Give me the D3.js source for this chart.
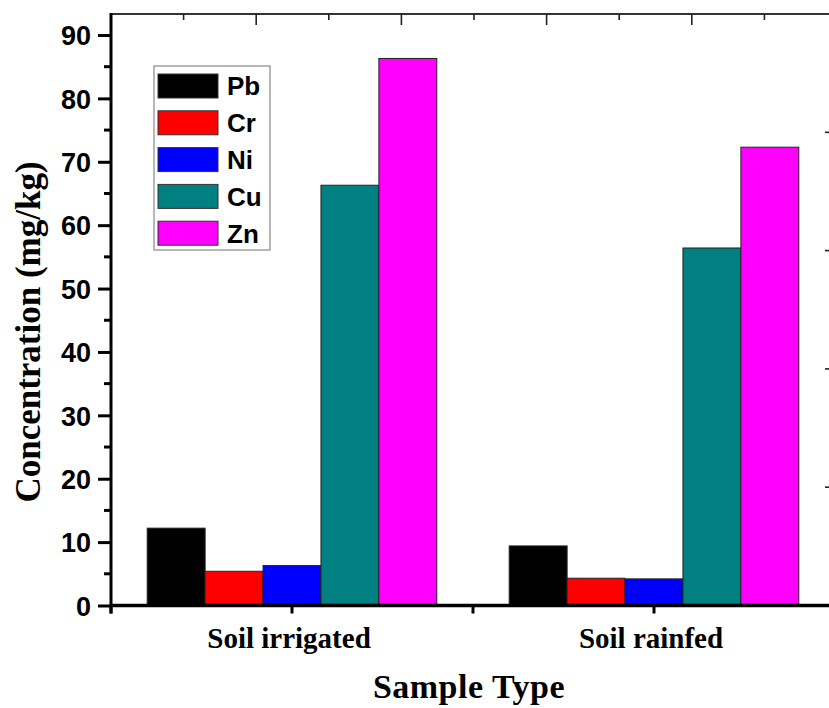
<!DOCTYPE html>
<html>
<head>
<meta charset="utf-8">
<script src="https://cdn.jsdelivr.net/npm/d3@7"></script>
<style>
  html, body { margin: 0; padding: 0; background: #fff; }
  svg { display: block; }
</style>
</head>
<body>
<div id="chart"></div>
<script>
// Heavy-metal concentrations in two soil types (mg/kg)
const sampleTypes = ["Soil irrigated", "Soil rainfed"];
const metals = ["Pb", "Cr", "Ni", "Cu", "Zn"];
const metalColors = ["#000000", "#ff0000", "#0000ff", "#008080", "#ff00ff"];
const pbValues = [12.2, 9.4];
const crValues = [5.4, 4.3];
const niValues = [6.3, 4.2];
const cuValues = [66.3, 56.4];
const znValues = [86.3, 72.3];
const yTicks = [0, 10, 20, 30, 40, 50, 60, 70, 80, 90];

const seriesValues = [pbValues, crValues, niValues, cuValues, znValues];
const rows = sampleTypes.map((s, i) => ({
  sample: s,
  values: metals.map((m, j) => ({ metal: m, value: seriesValues[j][i], color: metalColors[j] }))
}));

const W = 829, H = 708;
const plotLeft = 111, plotRight = 835, plotTop = 14, plotBottom = 605.5;

const svg = d3.select("#chart").append("svg")
  .attr("width", W).attr("height", H);

const x = d3.scaleBand().domain(sampleTypes).range([plotLeft, plotRight])
  .paddingInner(0.2).paddingOuter(0.1);
const xSub = d3.scaleBand().domain(metals).range([0, x.bandwidth()]);
const y = d3.scaleLinear().domain([0, 90]).range([plotBottom, 35]);

// Bars
const groups = svg.append("g").selectAll("g").data(rows).join("g")
  .attr("transform", d => `translate(${x(d.sample)},0)`);
groups.selectAll("rect").data(d => d.values).join("rect")
  .attr("x", d => xSub(d.metal))
  .attr("y", d => y(d.value))
  .attr("width", xSub.bandwidth())
  .attr("height", d => y(0) - y(d.value))
  .attr("fill", d => d.color)
  .attr("stroke", "#222")
  .attr("stroke-width", 1);

// Top frame axis (mirror, no labels)
const xTop = d3.scaleLinear().domain([0, 10]).range([plotLeft, plotLeft + 72.6 * 10]);
svg.append("line").attr("x1", plotLeft).attr("x2", W + 10).attr("y1", plotTop).attr("y2", plotTop)
  .attr("stroke", "#333").attr("stroke-width", 2);
svg.append("g").selectAll("line").data(d3.range(1, 10)).join("line")
  .attr("x1", d => xTop(d)).attr("x2", d => xTop(d))
  .attr("y1", plotTop).attr("y2", d => plotTop + (d % 2 === 0 ? 11 : 6))
  .attr("stroke", "#222").attr("stroke-width", 1.6);

// Right frame axis (its line lies just past the visible edge)
const yRight = d3.scaleLinear().domain([0, 100]).range([plotBottom, plotTop]);
svg.append("line").attr("x1", plotRight + 1).attr("x2", plotRight + 1).attr("y1", plotTop).attr("y2", plotBottom)
  .attr("stroke", "#333").attr("stroke-width", 2);
svg.append("g").selectAll("line").data(d3.range(10, 100, 10)).join("line")
  .attr("x1", plotRight).attr("x2", d => plotRight - (d % 20 === 0 ? 10 : 5))
  .attr("y1", d => yRight(d)).attr("y2", d => yRight(d))
  .attr("stroke", "#222").attr("stroke-width", 1.6);

// Left axis
const yAxis = d3.axisLeft(y).tickValues(yTicks).tickSize(13).tickPadding(7).tickFormat(d3.format("d"));
const gy = svg.append("g").attr("transform", `translate(${plotLeft},0)`).call(yAxis);
gy.select(".domain").remove();
gy.selectAll(".tick line").attr("stroke", "#000").attr("stroke-width", 3);
gy.selectAll(".tick text")
  .attr("font-family", "Liberation Sans, Arial, sans-serif")
  .attr("font-weight", "bold").attr("font-size", 27).attr("fill", "#000")
  .attr("dy", "0.36em");
svg.append("g").selectAll("line").data(d3.range(5, 90, 10)).join("line")
  .attr("x1", plotLeft).attr("x2", plotLeft - 7)
  .attr("y1", d => y(d)).attr("y2", d => y(d))
  .attr("stroke", "#000").attr("stroke-width", 3);
svg.append("line").attr("x1", plotLeft).attr("x2", plotLeft).attr("y1", plotTop - 1).attr("y2", plotBottom + 8)
  .attr("stroke", "#000").attr("stroke-width", 3);

// Bottom axis
const xAxis = d3.axisBottom(x).tickSize(8).tickPadding(14);
const gx = svg.append("g").attr("transform", `translate(0,${plotBottom})`).call(xAxis);
gx.select(".domain").remove();
gx.selectAll(".tick line").attr("stroke", "#000").attr("stroke-width", 3);
gx.selectAll(".tick text")
  .attr("font-family", "Liberation Serif, Times New Roman, serif")
  .attr("font-weight", "bold").attr("font-size", 29).attr("fill", "#000")
  .attr("dx", -3);
const boundaries = [x.range()[0], (x(sampleTypes[0]) + x.bandwidth() + x(sampleTypes[1])) / 2];
svg.append("g").selectAll("line").data(boundaries).join("line")
  .attr("x1", d => d).attr("x2", d => d)
  .attr("y1", plotBottom).attr("y2", plotBottom + 8)
  .attr("stroke", "#000").attr("stroke-width", 3);
svg.append("line").attr("x1", plotLeft - 1).attr("x2", W + 10).attr("y1", plotBottom).attr("y2", plotBottom)
  .attr("stroke", "#000").attr("stroke-width", 3.5);

// Axis titles
svg.append("text")
  .attr("x", 469).attr("y", 698)
  .attr("text-anchor", "middle")
  .attr("font-family", "Liberation Serif, Times New Roman, serif")
  .attr("font-weight", "bold").attr("font-size", 34)
  .attr("letter-spacing", 0.5)
  .text("Sample Type");
svg.append("text")
  .attr("transform", `translate(40,332) rotate(-90)`)
  .attr("text-anchor", "middle")
  .attr("font-family", "Liberation Serif, Times New Roman, serif")
  .attr("font-weight", "bold").attr("font-size", 35)
  .text("Concentration (mg/kg)");

// Legend
const legend = svg.append("g").attr("transform", "translate(154,66)");
legend.append("rect").attr("x", 0).attr("y", 0).attr("width", 116).attr("height", 184)
  .attr("fill", "#fff").attr("stroke", "#888").attr("stroke-width", 1.2);
const items = legend.selectAll("g.item").data(metals).join("g")
  .attr("class", "item")
  .attr("transform", (d, i) => `translate(4,${8 + i * 36.8})`);
items.append("rect").attr("width", 60).attr("height", 24)
  .attr("fill", (d, i) => metalColors[i]).attr("stroke", "#333").attr("stroke-width", 1);
items.append("text").attr("x", 69).attr("y", 12).attr("dy", "0.36em")
  .attr("font-family", "Liberation Sans, Arial, sans-serif")
  .attr("font-weight", "bold").attr("font-size", 26)
  .text(d => d);
</script>
</body>
</html>
